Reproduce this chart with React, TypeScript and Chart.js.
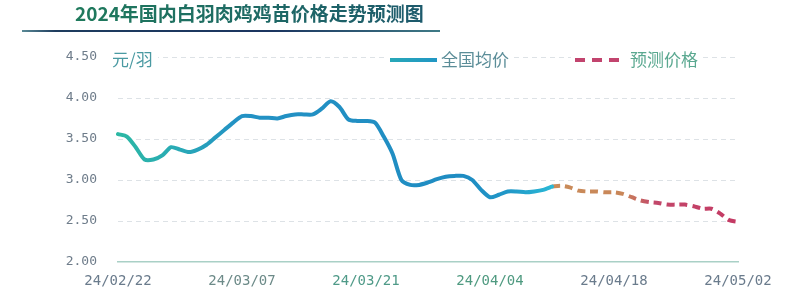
import React, { useEffect, useRef } from "react";
import { Chart, registerables } from "chart.js";

Chart.register(...registerables);

// Chart text
const titleText = "2024年国内白羽肉鸡鸡苗价格走势预测图";
const unitText = "元/羽";
const actualName = "全国均价";
const forecastName = "预测价格";

// Daily categories: 2024-02-22 .. 2024-05-02
const firstDay = new Date(2024, 1, 22);
const dayCount = 71;
const tickEvery = 14;

// National average price (yuan per chick), one value per day from 02/22
const actualValues = [
  3.56, 3.53, 3.4, 3.25, 3.25, 3.3, 3.4, 3.37, 3.34, 3.37,
  3.43, 3.52, 3.61, 3.7, 3.78, 3.78, 3.76, 3.76, 3.75, 3.78,
  3.8, 3.8, 3.8, 3.87, 3.96, 3.89, 3.74, 3.72, 3.72, 3.7,
  3.53, 3.32, 3.0, 2.94, 2.94, 2.97, 3.01, 3.04, 3.05, 3.05,
  3.0, 2.88, 2.79, 2.82, 2.86, 2.86, 2.85, 2.86, 2.88, 2.92,
];

// Forecast price, starting on the last observed day
const forecastStartIndex = 49;
const forecastValues = [
  2.92, 2.93, 2.91, 2.87, 2.86, 2.86, 2.85, 2.85, 2.83, 2.79,
  2.75, 2.73, 2.72, 2.7, 2.7, 2.7, 2.68, 2.65, 2.65, 2.59,
  2.51, 2.49,
];

// Y axis range
const yMin = 2.0;
const yMax = 4.5;
const yStep = 0.5;

const WIDTH = 800;
const HEIGHT = 307;

const pad2 = (n: number) => (n < 10 ? "0" + n : String(n));
const dayLabels: string[] = [];
for (let i = 0; i < dayCount; i++) {
  const d = new Date(firstDay.getFullYear(), firstDay.getMonth(), firstDay.getDate() + i);
  dayLabels.push(`${pad2(d.getFullYear() % 100)}/${pad2(d.getMonth() + 1)}/${pad2(d.getDate())}`);
}

const actualSeries: (number | null)[] = dayLabels.map((_, i) =>
  i < actualValues.length ? actualValues[i] : null
);
const forecastSeries: (number | null)[] = dayLabels.map((_, i) =>
  i >= forecastStartIndex && i - forecastStartIndex < forecastValues.length
    ? forecastValues[i - forecastStartIndex]
    : null
);

const tickColors = ["#6a7b8c", "#6c8a88", "#4f9a88", "#4f9a80", "#6a7b8c", "#6a7b8c"];

// Horizontal gradient between two category indices of the x scale
function indexGradient(chart: Chart, from: number, to: number, stops: [number, string][], fallback: string) {
  const xs: any = chart.scales && (chart.scales as any).x;
  if (!chart.chartArea || !xs) return fallback;
  const x0 = xs.getPixelForValue(from);
  const x1 = xs.getPixelForValue(to);
  if (!isFinite(x0) || !isFinite(x1) || x1 <= x0) return fallback;
  const g = chart.ctx.createLinearGradient(x0, 0, x1, 0);
  stops.forEach(([o, c]) => g.addColorStop(o, c));
  return g;
}

const actualStops: [number, string][] = [
  [0, "#2cb8a4"],
  [0.14, "#29aab6"],
  [0.27, "#2392c4"],
  [0.8, "#1f8cc2"],
  [0.9, "#2198c8"],
  [1, "#2ab8d6"],
];

const forecastStops: [number, string][] = [
  [0, "#c98c5a"],
  [0.38, "#c98658"],
  [0.46, "#c66a60"],
  [0.54, "#c2486a"],
  [1, "#c43a64"],
];

const decorPlugin = {
  id: "decor",
  afterDraw(chart: Chart) {
    const ctx = chart.ctx;
    ctx.save();

    // Title
    const tg = ctx.createLinearGradient(75, 0, 420, 0);
    tg.addColorStop(0, "#1f7a5c");
    tg.addColorStop(1, "#1d5a6c");
    ctx.fillStyle = tg;
    ctx.font = "bold 19px 'Noto Sans CJK SC', sans-serif";
    ctx.textBaseline = "middle";
    ctx.textAlign = "left";
    ctx.fillText(titleText, 75, 14);

    // Title underline
    const ug = ctx.createLinearGradient(22, 0, 440, 0);
    ug.addColorStop(0, "#5a8a96");
    ug.addColorStop(0.08, "#1e3c5e");
    ug.addColorStop(0.6, "#1b3560");
    ug.addColorStop(1, "#3f7a86");
    ctx.strokeStyle = ug;
    ctx.lineWidth = 2;
    ctx.beginPath();
    ctx.moveTo(22, 31);
    ctx.lineTo(440, 31);
    ctx.stroke();

    const rowY = 60;
    ctx.font = "17px 'Noto Sans CJK SC', sans-serif";

    // Unit label
    ctx.fillStyle = "#ffffff";
    ctx.fillRect(108, rowY - 10, 50, 20);
    ctx.fillStyle = "#4a9aa2";
    ctx.fillText(unitText, 112, rowY);

    // Legend: observed
    ctx.fillStyle = "#ffffff";
    ctx.fillRect(386, rowY - 10, 128, 20);
    const lg = ctx.createLinearGradient(390, 0, 437, 0);
    lg.addColorStop(0, "#27a8b8");
    lg.addColorStop(1, "#2196c4");
    ctx.strokeStyle = lg;
    ctx.lineWidth = 4;
    ctx.beginPath();
    ctx.moveTo(390, rowY);
    ctx.lineTo(437, rowY);
    ctx.stroke();
    ctx.fillStyle = "#5b8d98";
    ctx.fillText(actualName, 441, rowY);

    // Legend: forecast
    ctx.fillStyle = "#ffffff";
    ctx.fillRect(571, rowY - 10, 128, 20);
    ctx.strokeStyle = "#c2446e";
    ctx.setLineDash([10, 7]);
    ctx.beginPath();
    ctx.moveTo(575, rowY);
    ctx.lineTo(620, rowY);
    ctx.stroke();
    ctx.setLineDash([]);
    ctx.fillStyle = "#5aa890";
    ctx.fillText(forecastName, 630, rowY);

    ctx.restore();
  },
};

export default function App() {
  const canvasRef = useRef<HTMLCanvasElement | null>(null);

  useEffect(() => {
    const canvas = canvasRef.current;
    if (!canvas) return;
    const lastActual = actualValues.length - 1;
    const lastForecast = forecastStartIndex + forecastValues.length - 1;
    const chart = new Chart(canvas, {
      type: "line",
      data: {
        labels: dayLabels,
        datasets: [
          {
            label: actualName,
            data: actualSeries,
            borderColor: (c: any) => indexGradient(c.chart, 0, lastActual, actualStops, "#2391c4"),
            borderWidth: 4,
            pointRadius: 0,
            tension: 0.25,
            spanGaps: false,
            borderCapStyle: "round",
            borderJoinStyle: "round",
          },
          {
            label: forecastName,
            data: forecastSeries,
            borderColor: (c: any) =>
              indexGradient(c.chart, forecastStartIndex, lastForecast, forecastStops, "#c2446c"),
            borderWidth: 4,
            borderDash: [8, 5],
            pointRadius: 0,
            tension: 0.25,
            spanGaps: false,
          },
        ],
      },
      options: {
        animation: false,
        responsive: false,
        devicePixelRatio: 1,
        layout: { padding: { top: 57, right: 62, left: 0, bottom: 0 } },
        plugins: {
          legend: { display: false },
          tooltip: { enabled: false },
          title: { display: false },
        },
        scales: {
          x: {
            type: "category",
            offset: false,
            grid: { display: false, drawTicks: false },
            border: { display: true, color: "#a9d0c6", width: 1.5 },
            afterFit: (s: any) => {
              s.height = 45;
            },
            ticks: {
              autoSkip: false,
              maxRotation: 0,
              minRotation: 0,
              padding: 11,
              font: { family: "'DejaVu Sans Mono', monospace", size: 14 },
              color: (c: any) => tickColors[Math.round(c.index / tickEvery)] || "#6a7b8c",
              callback: (_v: any, i: number) => (i % tickEvery === 0 ? dayLabels[i] : ""),
            },
          },
          y: {
            min: yMin,
            max: yMax,
            grid: {
              drawTicks: false,
              color: (c: any) => (c.tick && c.tick.value === yMin ? "rgba(0,0,0,0)" : "#dde2e6"),
              lineWidth: 1,
            },
            border: { display: false, dash: [5, 4] },
            afterFit: (s: any) => {
              s.width = 118;
            },
            ticks: {
              stepSize: yStep,
              padding: 21,
              font: { family: "'DejaVu Sans Mono', monospace", size: 13 },
              color: "#6e7c8a",
              callback: (v: any) => Number(v).toFixed(2),
            },
          },
        },
      },
      plugins: [decorPlugin],
    });
    // second pass so the gradients are built from the final scale layout
    chart.update();
    return () => chart.destroy();
  }, []);

  return (
    <div style={{ position: "absolute", left: 0, top: 0, width: WIDTH, height: HEIGHT, background: "#ffffff" }}>
      <canvas ref={canvasRef} width={WIDTH} height={HEIGHT} style={{ display: "block", width: WIDTH, height: HEIGHT }} />
    </div>
  );
}
